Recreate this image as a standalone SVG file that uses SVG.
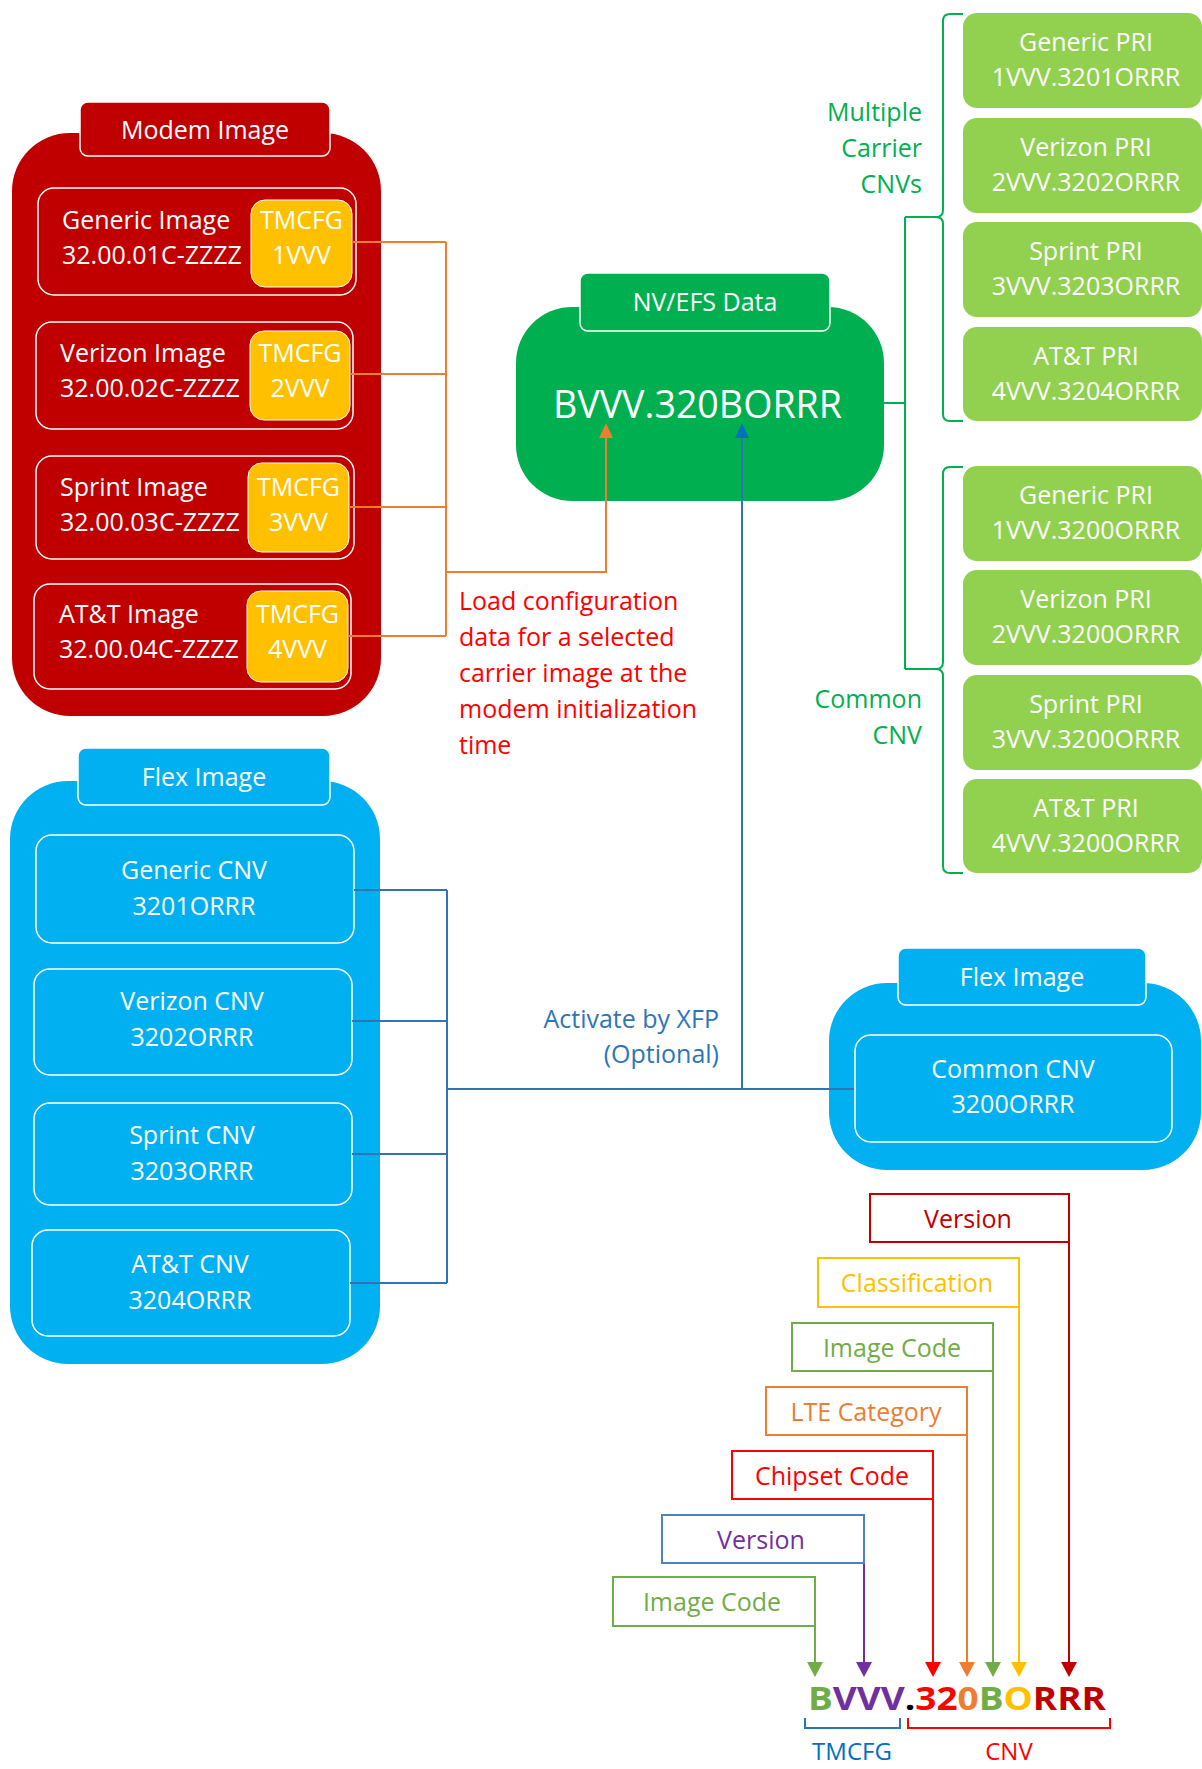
<svg xmlns="http://www.w3.org/2000/svg" width="1202" height="1769" viewBox="0 0 1202 1769">
<style>
text{font-family:"Open Sans","Noto Sans","DejaVu Sans",sans-serif;font-size:25px}
.w{fill:#fff}
.c{text-anchor:middle}
.e{text-anchor:end}
.inner{fill:none;stroke:#fff;stroke-width:1.5}
.tabr{fill:#C00000;stroke:#fff;stroke-width:1.5}
.tabg{fill:#00B050;stroke:#fff;stroke-width:1.5}
.tabb{fill:#00B0F0;stroke:#fff;stroke-width:1.5}
.yel{fill:#FFC000;stroke:#fff;stroke-width:1}
.pri{fill:#92D050}
.gl{fill:#00B050}
.leg{fill:#fff;stroke-width:2}
.ln{fill:none;stroke-width:2}
</style>
<rect width="1202" height="1769" fill="#fff"/>

<g id="modem-image">
<rect x="12" y="133" width="369" height="583" rx="58" fill="#C00000"/>
<rect class="tabr" x="80" y="102" width="250" height="54" rx="8"/>
<text class="w c" x="205" y="139">Modem Image</text>
</g>
<g id="generic-image">
<rect class="inner" x="38" y="188" width="318" height="107" rx="16"/>
<rect class="yel" x="251" y="200" width="101" height="87" rx="14"/>
<text class="w" x="62" y="229">Generic Image</text>
<text class="w" x="62" y="264">32.00.01C-ZZZZ</text>
<text class="w c" x="301.5" y="229">TMCFG</text>
<text class="w c" x="301.5" y="264">1VVV</text>
</g>
<g id="verizon-image">
<rect class="inner" x="36" y="322" width="317" height="107" rx="16"/>
<rect class="yel" x="250" y="331" width="100" height="89" rx="14"/>
<text class="w" x="60" y="362">Verizon Image</text>
<text class="w" x="60" y="397">32.00.02C-ZZZZ</text>
<text class="w c" x="300" y="362">TMCFG</text>
<text class="w c" x="300" y="397">2VVV</text>
</g>
<g id="sprint-image">
<rect class="inner" x="36" y="456" width="318" height="103" rx="16"/>
<rect class="yel" x="248" y="463" width="101" height="89" rx="14"/>
<text class="w" x="60" y="496">Sprint Image</text>
<text class="w" x="60" y="531">32.00.03C-ZZZZ</text>
<text class="w c" x="298.5" y="496">TMCFG</text>
<text class="w c" x="298.5" y="531">3VVV</text>
</g>
<g id="att-image">
<rect class="inner" x="34" y="584" width="317" height="105" rx="16"/>
<rect class="yel" x="247" y="591" width="101" height="91" rx="14"/>
<text class="w" x="59" y="623">AT&amp;T Image</text>
<text class="w" x="59" y="658">32.00.04C-ZZZZ</text>
<text class="w c" x="297.5" y="623">TMCFG</text>
<text class="w c" x="297.5" y="658">4VVV</text>
</g>

<g id="nv-efs-data">
<rect x="516" y="307" width="368" height="194" rx="56" fill="#00B050"/>
<rect class="tabg" x="580" y="273" width="250" height="58" rx="8"/>
<text class="w c" x="705" y="311">NV/EFS Data</text>
<text class="w" x="553" y="418" style="font-size:38px" textLength="289" lengthAdjust="spacingAndGlyphs">BVVV.320BORRR</text>
</g>

<g id="multiple-carrier-label">
<text class="gl e" x="922" y="121">Multiple</text>
<text class="gl e" x="922" y="157">Carrier</text>
<text class="gl e" x="922" y="193">CNVs</text>
</g>
<g id="common-cnv-label">
<text class="gl e" x="922" y="708">Common</text>
<text class="gl e" x="922" y="744">CNV</text>
</g>

<g id="pri-1">
<rect class="pri" x="963" y="13" width="239" height="95" rx="14"/>
<text class="w c" x="1086" y="51">Generic PRI</text>
<text class="w c" x="1086" y="86">1VVV.3201ORRR</text>
</g>
<g id="pri-2">
<rect class="pri" x="963" y="118" width="239" height="95" rx="14"/>
<text class="w c" x="1086" y="156">Verizon PRI</text>
<text class="w c" x="1086" y="191">2VVV.3202ORRR</text>
</g>
<g id="pri-3">
<rect class="pri" x="963" y="222" width="239" height="95" rx="14"/>
<text class="w c" x="1086" y="260">Sprint PRI</text>
<text class="w c" x="1086" y="295">3VVV.3203ORRR</text>
</g>
<g id="pri-4">
<rect class="pri" x="963" y="327" width="239" height="94" rx="14"/>
<text class="w c" x="1086" y="365">AT&amp;T PRI</text>
<text class="w c" x="1086" y="400">4VVV.3204ORRR</text>
</g>
<g id="pri-5">
<rect class="pri" x="963" y="466" width="239" height="95" rx="14"/>
<text class="w c" x="1086" y="504">Generic PRI</text>
<text class="w c" x="1086" y="539">1VVV.3200ORRR</text>
</g>
<g id="pri-6">
<rect class="pri" x="963" y="570" width="239" height="95" rx="14"/>
<text class="w c" x="1086" y="608">Verizon PRI</text>
<text class="w c" x="1086" y="643">2VVV.3200ORRR</text>
</g>
<g id="pri-7">
<rect class="pri" x="963" y="675" width="239" height="95" rx="14"/>
<text class="w c" x="1086" y="713">Sprint PRI</text>
<text class="w c" x="1086" y="748">3VVV.3200ORRR</text>
</g>
<g id="pri-8">
<rect class="pri" x="963" y="779" width="239" height="94" rx="14"/>
<text class="w c" x="1086" y="817">AT&amp;T PRI</text>
<text class="w c" x="1086" y="852">4VVV.3200ORRR</text>
</g>

<g id="load-note">
<text x="459" y="610" fill="#FF0000">Load configuration</text>
<text x="459" y="646" fill="#FF0000">data for a selected</text>
<text x="459" y="682" fill="#FF0000">carrier image at the</text>
<text x="459" y="718" fill="#FF0000">modem initialization</text>
<text x="459" y="754" fill="#FF0000">time</text>
</g>

<g id="flex-image-left">
<rect x="10" y="781" width="370" height="583" rx="58" fill="#00B0F0"/>
<rect class="tabb" x="78" y="748" width="252" height="57" rx="8"/>
<text class="w c" x="204" y="786">Flex Image</text>
</g>
<g id="generic-cnv">
<rect class="inner" x="36" y="835" width="318" height="108" rx="16"/>
<text class="w c" x="194" y="879">Generic CNV</text>
<text class="w c" x="194" y="915">3201ORRR</text>
</g>
<g id="verizon-cnv">
<rect class="inner" x="34" y="969" width="318" height="106" rx="16"/>
<text class="w c" x="192" y="1010">Verizon CNV</text>
<text class="w c" x="192" y="1046">3202ORRR</text>
</g>
<g id="sprint-cnv">
<rect class="inner" x="34" y="1103" width="318" height="102" rx="16"/>
<text class="w c" x="192" y="1144">Sprint CNV</text>
<text class="w c" x="192" y="1180">3203ORRR</text>
</g>
<g id="att-cnv">
<rect class="inner" x="32" y="1230" width="318" height="106" rx="16"/>
<text class="w c" x="190" y="1273">AT&amp;T CNV</text>
<text class="w c" x="190" y="1309">3204ORRR</text>
</g>

<g id="flex-image-right">
<rect x="829" y="983" width="372" height="187" rx="58" fill="#00B0F0"/>
<rect class="tabb" x="898" y="948" width="248" height="57" rx="8"/>
<text class="w c" x="1022" y="986">Flex Image</text>
</g>

<g id="activate-label">
<text class="e" x="719" y="1028" fill="#2E75B6">Activate by XFP</text>
<text class="e" x="719" y="1063" fill="#2E75B6">(Optional)</text>
</g>

<g id="connectors">
<g stroke="#ED7D31" class="ln">
<path d="M352 242H446M350 374H446M349 507H446M348 636H446M446 242V636M446 572H606V437"/>
</g>
<polygon points="606,423 599,438 613,438" fill="#ED7D31"/>
<g stroke="#2E75B6" class="ln">
<path d="M354 890H447M352 1021H447M352 1154H447M350 1283H447M447 890V1283M447 1089H855M742 437V1089"/>
</g>
<polygon points="742,423 735,438 749,438" fill="#0070C0"/>
<g stroke="#00B050" class="ln">
<path d="M884 403H905M905 217V669M905 217H936M905 669H936"/>
<path d="M963 14H950Q943 14 943 21V210Q943 217 936 217Q943 217 943 224V414Q943 421 950 421H963"/>
<path d="M963 467H950Q943 467 943 474V662Q943 669 936 669Q943 669 943 676V866Q943 873 950 873H963"/>
</g>
<path class="ln" stroke="#C00000" d="M1069 1242V1663"/>
<polygon points="1069,1677 1061,1662 1077,1662" fill="#C00000"/>
<path class="ln" stroke="#FFC000" d="M1019 1307V1663"/>
<polygon points="1019,1677 1011,1662 1027,1662" fill="#FFC000"/>
<path class="ln" stroke="#70AD47" d="M993 1371V1663"/>
<polygon points="993,1677 985,1662 1001,1662" fill="#70AD47"/>
<path class="ln" stroke="#ED7D31" d="M967 1435V1663"/>
<polygon points="967,1677 959,1662 975,1662" fill="#ED7D31"/>
<path class="ln" stroke="#FF0000" d="M933 1499V1663"/>
<polygon points="933,1677 925,1662 941,1662" fill="#FF0000"/>
<path class="ln" stroke="#7030A0" d="M864 1563V1663"/>
<polygon points="864,1677 856,1662 872,1662" fill="#7030A0"/>
<path class="ln" stroke="#70AD47" d="M815 1626V1663"/>
<polygon points="815,1677 807,1662 823,1662" fill="#70AD47"/>
</g>

<g id="common-cnv">
<rect class="inner" x="855" y="1035" width="317" height="107" rx="16"/>
<text class="w c" x="1013" y="1078">Common CNV</text>
<text class="w c" x="1013" y="1113">3200ORRR</text>
</g>

<g id="legend-version-top">
<rect class="leg" x="870" y="1194" width="199" height="48" stroke="#C00000"/>
<text class="c" x="968" y="1228" fill="#C00000">Version</text>
</g>
<g id="legend-classification">
<rect class="leg" x="818" y="1258" width="201" height="49" stroke="#FFC000"/>
<text class="c" x="917" y="1292" fill="#FFC000">Classification</text>
</g>
<g id="legend-image-code-top">
<rect class="leg" x="792" y="1323" width="201" height="48" stroke="#70AD47"/>
<text class="c" x="892" y="1357" fill="#70AD47">Image Code</text>
</g>
<g id="legend-lte-category">
<rect class="leg" x="766" y="1387" width="201" height="48" stroke="#ED7D31"/>
<text class="c" x="866" y="1421" fill="#ED7D31">LTE Category</text>
</g>
<g id="legend-chipset-code">
<rect class="leg" x="732" y="1451" width="201" height="48" stroke="#FF0000"/>
<text class="c" x="832" y="1485" fill="#FF0000">Chipset Code</text>
</g>
<g id="legend-version-bottom">
<rect class="leg" x="662" y="1515" width="202" height="48" stroke="#4F81BD"/>
<text class="c" x="761" y="1549" fill="#7030A0">Version</text>
</g>
<g id="legend-image-code-bottom">
<rect class="leg" x="613" y="1577" width="202" height="49" stroke="#70AD47"/>
<text class="c" x="712" y="1611" fill="#70AD47">Image Code</text>
</g>

<g id="format-string">
<text x="808" y="1710" style="font-size:33px;font-weight:bold" textLength="298" lengthAdjust="spacingAndGlyphs"><tspan fill="#70AD47">B</tspan><tspan fill="#7030A0">VVV</tspan><tspan fill="#000">.</tspan><tspan fill="#FF0000">32</tspan><tspan fill="#ED7D31">0</tspan><tspan fill="#70AD47">B</tspan><tspan fill="#FFC000">O</tspan><tspan fill="#C00000">RRR</tspan></text>
<path class="ln" stroke="#2E75B6" d="M805 1718V1728H900V1718"/>
<path class="ln" stroke="#FF0000" d="M908 1718V1728H1110V1718"/>
<text class="c" x="852" y="1760" style="font-size:24px" fill="#0070C0">TMCFG</text>
<text class="c" x="1009" y="1760" style="font-size:24px" fill="#FF0000">CNV</text>
</g>
</svg>
